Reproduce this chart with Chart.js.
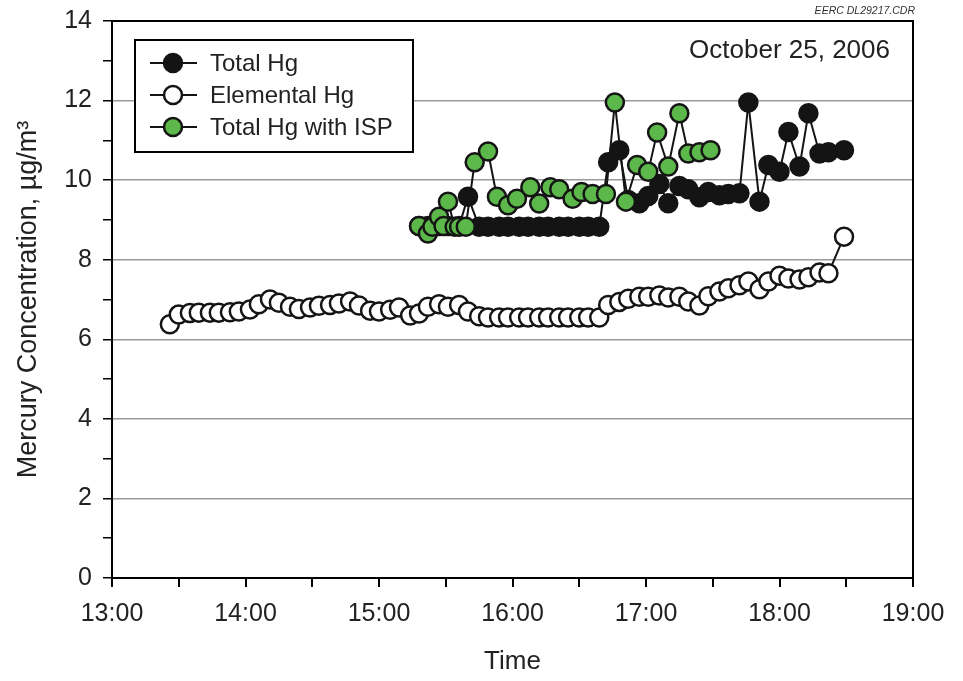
<!DOCTYPE html>
<html>
<head>
<meta charset="utf-8">
<script src="https://cdn.jsdelivr.net/npm/chart.js@4.4.1/dist/chart.umd.min.js"></script>
<style>
  html, body { margin: 0; padding: 0; background: #fff; }
  #wrap { width: 963px; height: 681px; }
</style>
</head>
<body>
<div id="wrap"><canvas id="hg"></canvas></div>
<script>
// sample times (HH:MM) and concentrations, ug/m3
const elementalTimes = [
  '13:26', '13:30', '13:35', '13:39', '13:44', '13:48', '13:53', '13:57', '14:02', '14:06',
  '14:11', '14:15', '14:20', '14:24', '14:29', '14:33', '14:38', '14:42', '14:47', '14:51',
  '14:56', '15:00', '15:05', '15:09', '15:14', '15:18', '15:22', '15:27', '15:31', '15:36',
  '15:40', '15:45', '15:49', '15:54', '15:58', '16:03', '16:07', '16:12', '16:16', '16:21',
  '16:25', '16:30', '16:34', '16:39', '16:43', '16:48', '16:52', '16:57', '17:01', '17:06',
  '17:10', '17:15', '17:19', '17:24', '17:28', '17:33', '17:37', '17:42', '17:46', '17:51',
  '17:55', '18:00', '18:04', '18:09', '18:13', '18:18', '18:22', '18:29'
]
const elementalHg = [
  6.38, 6.62, 6.66, 6.67, 6.67, 6.67, 6.68, 6.7, 6.75, 6.88,
  7.0, 6.92, 6.82, 6.76, 6.8, 6.84, 6.86, 6.9, 6.95, 6.85,
  6.72, 6.7, 6.74, 6.8, 6.6, 6.65, 6.82, 6.88, 6.82, 6.86,
  6.7, 6.58, 6.55, 6.55, 6.55, 6.55, 6.55, 6.55, 6.55, 6.55,
  6.55, 6.55, 6.55, 6.55, 6.86, 6.94, 7.02, 7.07, 7.07, 7.1,
  7.05, 7.07, 6.95, 6.85, 7.08, 7.2, 7.28, 7.36, 7.45, 7.26,
  7.45, 7.6, 7.53, 7.5, 7.56, 7.68, 7.66, 8.58
]

const totalTimes = [
  '15:18', '15:22', '15:27', '15:31', '15:36', '15:40', '15:45', '15:49', '15:54', '15:58',
  '16:03', '16:07', '16:12', '16:16', '16:21', '16:25', '16:30', '16:34', '16:39', '16:43',
  '16:48', '16:52', '16:57', '17:01', '17:06', '17:10', '17:15', '17:19', '17:24', '17:28',
  '17:33', '17:37', '17:42', '17:46', '17:51', '17:55', '18:00', '18:04', '18:09', '18:13',
  '18:18', '18:22', '18:29'
]
const totalHg = [
  8.85, 8.85, 8.85, 8.85, 8.85, 9.58, 8.83, 8.83, 8.83, 8.83,
  8.83, 8.83, 8.83, 8.83, 8.83, 8.83, 8.83, 8.83, 8.83, 10.45,
  10.75, 9.5, 9.42, 9.6, 9.9, 9.42, 9.85, 9.77, 9.57, 9.7,
  9.62, 9.65, 9.67, 11.95, 9.46, 10.38, 10.21, 11.21, 10.34, 11.68,
  10.67, 10.7, 10.75
]

const ispTimes = [
  '15:18', '15:22', '15:24', '15:27', '15:29', '15:31', '15:34', '15:36', '15:39', '15:43',
  '15:49', '15:53', '15:58', '16:02', '16:08', '16:12', '16:17', '16:21', '16:27', '16:31',
  '16:36', '16:42', '16:46', '16:51', '16:56', '17:01', '17:05', '17:10', '17:15', '17:19',
  '17:24', '17:29'
]
const totalHgIsp = [
  8.85, 8.66, 8.83, 9.08, 8.85, 9.46, 8.83, 8.83, 8.83, 10.45,
  10.72, 9.58, 9.37, 9.53, 9.82, 9.41, 9.82, 9.77, 9.53, 9.7,
  9.65, 9.65, 11.95, 9.46, 10.38, 10.21, 11.2, 10.34, 11.68, 10.67,
  10.7, 10.75
]

const hourTicks = ['13:00', '14:00', '15:00', '16:00', '17:00', '18:00', '19:00']
const seriesNames = ['Total Hg', 'Elemental Hg', 'Total Hg with ISP']

const GREEN = '#5cb84a'
const INK = '#141414'
const TEXT = '#222'
const FONT = 'Liberation Sans, Arial, Helvetica, sans-serif'

const toMin = s => {
  const [h, m] = s.split(':')
  return Number(h) * 60 + Number(m)
}
const pts = (times, vals) => times.map((t, i) => ({ x: toMin(t), y: vals[i] }))

const lineStyle = {
  borderColor: INK,
  borderWidth: 2,
  pointRadius: 9,
  pointBorderWidth: 2.5,
  pointBorderColor: INK,
  pointHoverRadius: 9,
  tension: 0
}

// frame on top/right + legend box + text notes
const framePlugin = {
  id: 'frame',
  afterDraw(chart) {
    const { ctx, chartArea: { left, right, top, bottom } } = chart
    ctx.save()
    ctx.strokeStyle = '#000'
    ctx.lineWidth = 2
    ctx.beginPath()
    ctx.moveTo(left, top)
    ctx.lineTo(right, top)
    ctx.lineTo(right, bottom)
    ctx.stroke()

    // legend
    const bx = 135, by = 40, bw = 278, bh = 112
    ctx.fillStyle = '#fff'
    ctx.fillRect(bx, by, bw, bh)
    ctx.strokeRect(bx, by, bw, bh)
    const fills = [INK, '#fff', GREEN]
    seriesNames.forEach((name, i) => {
      const cy = by + 23 + i * 32
      ctx.strokeStyle = INK
      ctx.lineWidth = 2
      ctx.beginPath()
      ctx.moveTo(150, cy)
      ctx.lineTo(197, cy)
      ctx.stroke()
      ctx.beginPath()
      ctx.arc(173, cy, 9, 0, Math.PI * 2)
      ctx.fillStyle = fills[i]
      ctx.fill()
      ctx.lineWidth = 2.5
      ctx.stroke()
      ctx.fillStyle = TEXT
      ctx.font = '24px ' + FONT
      ctx.textBaseline = 'middle'
      ctx.textAlign = 'left'
      ctx.fillText(name, 210, cy + 1)
    })

    ctx.fillStyle = TEXT
    ctx.font = '26px ' + FONT
    ctx.textAlign = 'right'
    ctx.textBaseline = 'middle'
    ctx.fillText('October 25, 2006', 890, 51)

    ctx.font = 'italic 10.5px ' + FONT
    ctx.fillStyle = '#333'
    ctx.fillText('EERC DL29217.CDR', 915, 11)
    ctx.restore()
  }
}

new Chart(document.getElementById('hg'), {
  type: 'line',
  data: {
    datasets: [
      { ...lineStyle, label: seriesNames[0], data: pts(totalTimes, totalHg), pointBackgroundColor: INK, order: 1 },
      { ...lineStyle, label: seriesNames[1], data: pts(elementalTimes, elementalHg), pointBackgroundColor: '#fff', order: 2 },
      { ...lineStyle, label: seriesNames[2], data: pts(ispTimes, totalHgIsp), pointBackgroundColor: GREEN, order: 0 }
    ]
  },
  plugins: [framePlugin],
  options: {
    responsive: true,
    maintainAspectRatio: false,
    animation: false,
    layout: { padding: { top: 21, right: 50, left: 0, bottom: 0 } },
    plugins: { legend: { display: false }, tooltip: { enabled: false } },
    scales: {
      x: {
        type: 'linear',
        min: toMin(hourTicks[0]),
        max: toMin(hourTicks[hourTicks.length - 1]),
        afterFit(scale) {
          scale.height = 103
          scale.paddingLeft = 0
          scale.paddingRight = 0
        },
        afterBuildTicks(scale) {
          const t = []
          for (let v = scale.min; v <= scale.max; v += 30) t.push({ value: v })
          scale.ticks = t
        },
        border: { color: '#000', width: 2 },
        grid: { drawOnChartArea: false, tickColor: '#000', tickLength: 9, lineWidth: 2 },
        ticks: {
          autoSkip: false,
          maxRotation: 0,
          padding: 12,
          color: TEXT,
          font: { family: FONT, size: 25 },
          callback: v => {
            const label = hourTicks.find(h => toMin(h) === v)
            return label || ''
          }
        },
        title: {
          display: true,
          text: 'Time',
          color: TEXT,
          font: { family: FONT, size: 26 },
          padding: { top: 2 }
        }
      },
      y: {
        min: 0,
        max: 14,
        afterFit(scale) {
          scale.width = 112
          scale.paddingTop = 0
          scale.paddingBottom = 0
        },
        border: { color: '#000', width: 2 },
        grid: {
          color: c => (c.tick.value % 2 === 0 && c.tick.value > 0 && c.tick.value < 14 ? '#9a9a9a' : 'rgba(0,0,0,0)'),
          lineWidth: 1.5,
          tickColor: '#000',
          tickLength: 9
        },
        ticks: {
          stepSize: 1,
          padding: 11,
          color: TEXT,
          font: { family: FONT, size: 25 },
          callback: v => (v % 2 === 0 ? v : '')
        },
        title: {
          display: true,
          text: 'Mercury Concentration, µg/m³',
          color: TEXT,
          font: { family: FONT, size: 27 },
          padding: { top: 12, bottom: 0 }
        }
      }
    }
  }
})
</script>
</body>
</html>
